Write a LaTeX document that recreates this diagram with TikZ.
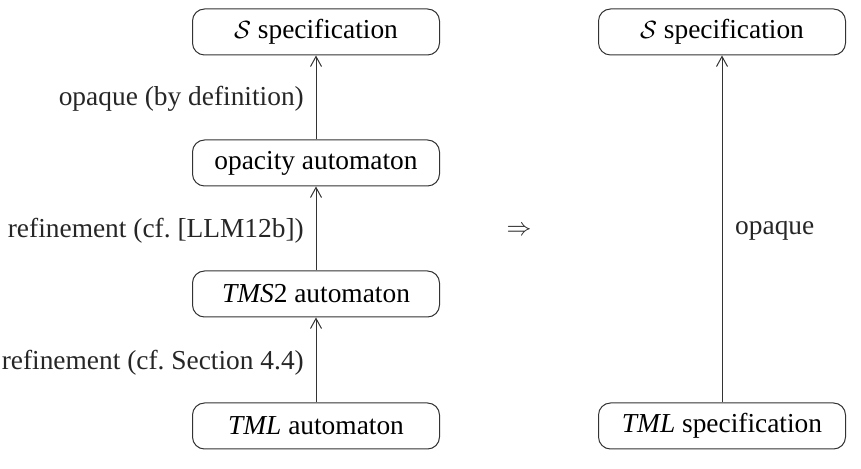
\documentclass[tikz,border=0pt]{standalone}
\usepackage{fontspec}
\setmainfont{Liberation Serif}
\usetikzlibrary{arrows.meta}
\begin{document}
\begin{tikzpicture}[x=1pt,y=1pt,
  box/.style={draw=black!80, line width=1pt, rounded corners=12pt, minimum width=247pt, minimum height=46pt, inner sep=0pt, font=\fontsize{27.4}{32}\selectfont},
  lbl/.style={inner sep=0pt, text=black!85, font=\fontsize{27.4}{32}\selectfont},
  arr/.style={draw=black!80, line width=1pt, -{Straight Barb[length=10pt,width=11pt,line width=1pt]}}]
\useasboundingbox (0,0) rectangle (861,468);
\node[box] (s1) at (316,436) {$\mathcal{S}$ specification};
\node[box] (op) at (316,305) {opacity automaton};
\node[box] (tms) at (316,174) {\textit{TMS}2 automaton};
\node[box] (tml) at (316,42) {\textit{TML} automaton};
\node[box] (s2) at (722,436) {$\mathcal{S}$ specification};
\node[box] (tml2) at (722,42) {\textit{TML} specification};
\draw[arr] (op) -- (s1);
\draw[arr] (tms) -- (op);
\draw[arr] (tml) -- (tms);
\draw[arr] (tml2) -- (s2);
\node[lbl, anchor=east] (l1) at (304,369) {opaque (by definition)};
\node[lbl, anchor=east] (l2) at (304,237) {refinement (cf.\ [LLM12b])};
\node[lbl, anchor=east] (l3) at (304,105) {refinement (cf.\ Section 4.4)};
\node[lbl, anchor=west] (l4) at (735,237) {opaque};
\node[lbl] (impl) at (519,237) {$\Rightarrow$};
\end{tikzpicture}
\end{document}
